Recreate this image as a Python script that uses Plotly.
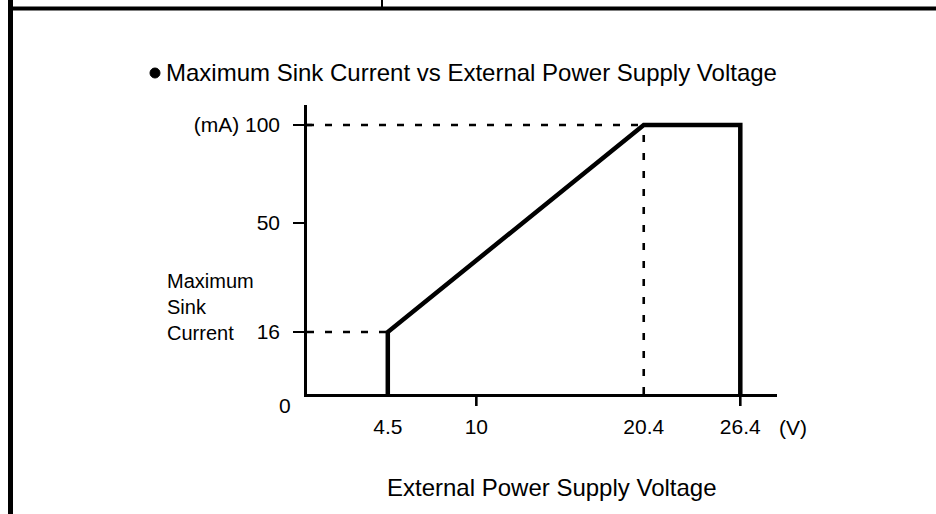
import numpy as np
import plotly.graph_objects as go

# Derating curve: maximum sink current (mA) vs external supply voltage (V)
voltage = [4.5, 4.5, 20.4, 26.4, 26.4]
sink_current = [0, 16, 100, 100, 0]

x_tick_vals = [4.5, 10, 20.4, 26.4]
x_tick_text = ["4.5", "10", "20.4", "26.4"]
x_marked_ticks = [10, 26.4]

y_tick_vals = [16, 50, 100]
y_tick_text = ["16", "50", "(mA) 100"]

# The current axis is drawn schematically: piecewise-linear between these breakpoints
Y_BREAK_VALUES = [0, 16, 50, 100]
Y_BREAK_POS = [0.0, 0.2305, 0.6357, 1.0]


def yscale(v):
    return np.interp(v, Y_BREAK_VALUES, Y_BREAK_POS)


W, H = 936, 514
L, R, T, B = 307, 777, 105, 394  # plot area in pixels
FULL_SCALE_PX = 269                # pixel height of the 100 mA level above the axis
X_RANGE = [-0.52, 28.68]
Y_RANGE = [0, (B - T) / FULL_SCALE_PX]


def fx(px):
    return (px - L) / (R - L)


def fy(py):
    return (B - py) / (B - T)


FONT = "Liberation Sans, Arial, Helvetica, sans-serif"
INK = "#000000"

fig = go.Figure()

knee_v, knee_i = voltage[2], sink_current[2]
start_v, start_i = voltage[1], sink_current[1]
dash = dict(color=INK, width=2.6, dash="7px,11px")

# dashed guide lines to the axes
fig.add_trace(go.Scatter(x=[X_RANGE[0], knee_v], y=yscale([knee_i, knee_i]),
                         mode="lines", line=dash, hoverinfo="skip"))
fig.add_trace(go.Scatter(x=[X_RANGE[0], start_v], y=yscale([start_i, start_i]),
                         mode="lines", line=dash, hoverinfo="skip"))
fig.add_trace(go.Scatter(x=[knee_v, knee_v], y=yscale([0, knee_i]),
                         mode="lines", line=dash, hoverinfo="skip"))

# the curve itself
fig.add_trace(go.Scatter(x=voltage, y=yscale(sink_current), mode="lines",
                         line=dict(color=INK, width=4.5), hoverinfo="skip"))

fig.update_layout(
    width=W, height=H, autosize=False,
    margin=dict(l=L, r=W - R, t=T, b=H - B, pad=0),
    paper_bgcolor="white", plot_bgcolor="white",
    showlegend=False,
    font=dict(family=FONT, color=INK, size=21),
    xaxis=dict(range=X_RANGE, showgrid=False, zeroline=False,
               showline=True, linecolor=INK, linewidth=2.6,
               tickmode="array", tickvals=x_tick_vals, ticktext=x_tick_text,
               ticks="", ticklabelstandoff=12,
               tickfont=dict(family=FONT, size=21, color=INK)),
    yaxis=dict(range=Y_RANGE, showgrid=False, zeroline=False,
               showline=True, linecolor=INK, linewidth=2.6,
               tickmode="array", tickvals=list(yscale(y_tick_vals)), ticktext=y_tick_text,
               ticks="outside", ticklen=11, tickwidth=2.4, tickcolor=INK,
               ticklabelstandoff=9,
               tickfont=dict(family=FONT, size=21, color=INK)),
)

annotations = [
    dict(x=fx(164), y=fy(72), text="Maximum Sink Current vs External Power Supply Voltage",
         font=dict(size=24)),
    dict(x=fx(165), y=fy(307), text="Maximum<br>Sink<br>Current", align="left",
         font=dict(size=20)),
    dict(x=fx(277), y=fy(405), text="0", font=dict(size=21)),
    dict(x=fx(777), y=fy(427), text="(V)", font=dict(size=21)),
    dict(x=fx(552), y=fy(487), text="External Power Supply Voltage", xanchor="center",
         font=dict(size=24)),
]
for a in annotations:
    a.setdefault("xanchor", "left")
    fig.add_annotation(xref="paper", yref="paper", showarrow=False, yanchor="middle",
                       font_family=FONT, font_color=INK, **a)

# bullet in front of the heading
fig.add_shape(type="circle", xref="paper", yref="paper",
              x0=fx(150), x1=fx(160), y0=fy(78), y1=fy(68),
              fillcolor=INK, line=dict(color=INK, width=1))

# tick marks below the voltage axis, only at the marked voltages
for v in x_marked_ticks:
    fig.add_shape(type="line", xref="x", yref="paper", x0=v, x1=v,
                  y0=fy(B), y1=fy(B + 12), line=dict(color=INK, width=2.6))

# page frame: heavy top rule, left rule and the small divider above
frame = [
    dict(x0=fx(8), x1=fx(936), y0=fy(8.5), y1=fy(8.5), line=dict(width=4)),
    dict(x0=fx(10.5), x1=fx(10.5), y0=fy(0), y1=fy(514), line=dict(width=5)),
    dict(x0=fx(382), x1=fx(382), y0=fy(0), y1=fy(8), line=dict(width=2)),
    dict(x0=fx(307), x1=fx(312), y0=yscale(100), y1=yscale(100), yref="y",
         line=dict(width=2.4)),
]
for s in frame:
    s.setdefault("yref", "paper")
    s["line"]["color"] = INK
    fig.add_shape(type="line", xref="paper", **s)

fig.write_html("out.html")
